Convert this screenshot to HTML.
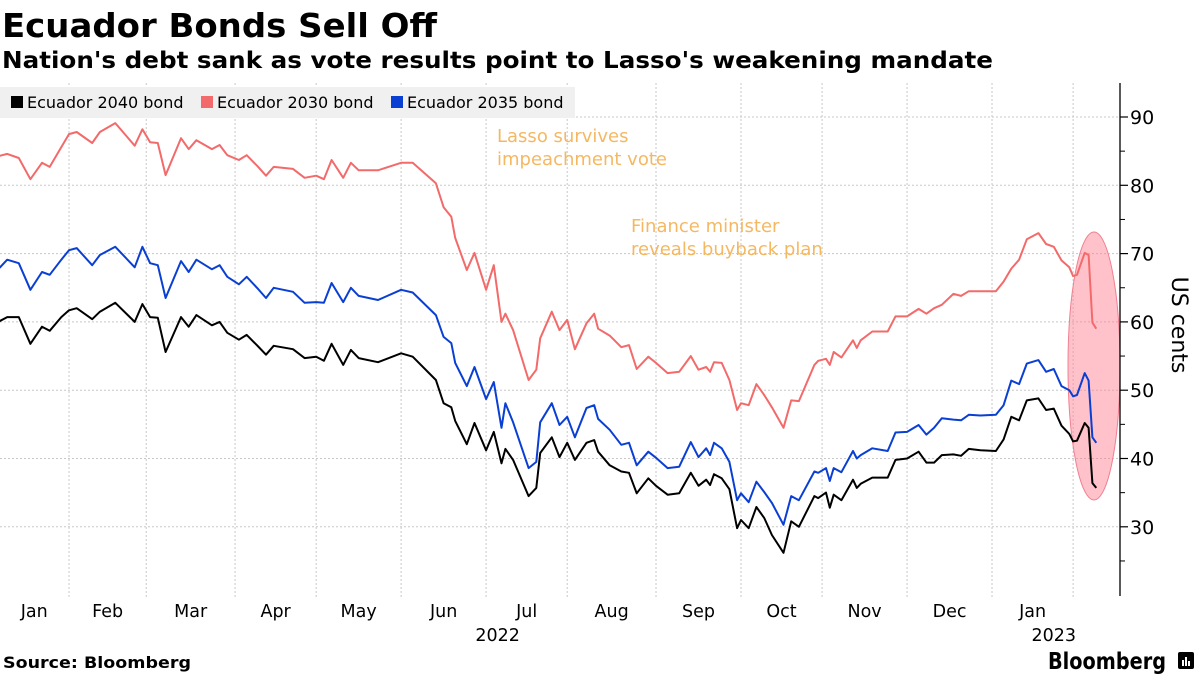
<!DOCTYPE html>
<html><head><meta charset="utf-8">
<style>
body{margin:0;background:#fff;}
svg text{font-family:"DejaVu Sans","Liberation Sans",sans-serif;}
</style></head>
<body>
<svg id="chart" width="1200" height="675" viewBox="0 0 1200 675" xmlns="http://www.w3.org/2000/svg">
<text x="2" y="37" font-size="33" font-weight="bold" fill="#000" textLength="435" lengthAdjust="spacingAndGlyphs">Ecuador Bonds Sell Off</text>
<text x="2" y="68" font-size="23" font-weight="bold" fill="#000" textLength="991" lengthAdjust="spacingAndGlyphs">Nation's debt sank as vote results point to Lasso's weakening mandate</text>
<g id="grid"></g>
<g id="ann"></g>
<g id="lines"></g>
<g id="axes"></g>
<g>
<rect x="0" y="87" width="575" height="31" fill="#f0f0f0"/>
<g><rect x="11" y="96" width="12" height="12" fill="#000"/><text x="27" y="108" font-size="16">Ecuador 2040 bond</text></g>
<g><rect x="201" y="96" width="12" height="12" fill="#f36a6a"/><text x="217" y="108" font-size="16">Ecuador 2030 bond</text></g>
<g><rect x="391" y="96" width="12" height="12" fill="#0a3fd3"/><text x="407" y="108" font-size="16">Ecuador 2035 bond</text></g>
</g>
<text x="3" y="668" font-size="16" font-weight="bold" textLength="188" lengthAdjust="spacingAndGlyphs">Source: Bloomberg</text>
<text x="1048" y="669" font-size="23" font-weight="bold" font-family="Liberation Sans, sans-serif" textLength="118" lengthAdjust="spacingAndGlyphs">Bloomberg</text>
<g><rect x="1178" y="652" width="16" height="17" rx="2" fill="#000"/><rect x="1182" y="660" width="2" height="6" fill="#fff"/><rect x="1185" y="657" width="2" height="9" fill="#fff"/><rect x="1188" y="661" width="2" height="5" fill="#fff"/></g>
</svg>
<script>
// trading-day index since 2022-01-03 (weekdays only)
const days = [3,5,8,11,14,16,19,21,23,27,29,33,38,40,42,44,46,50,52,54,58,60,62,65,67,70,72,74,79,82,85,87,89,92,94,96,101,
107,110,116,118,120,121,124,126,129,131,133,134,136,140,142,143,146,148,150,152,155,157,158,161,164,166,168,171,173,176,179,182,184,186,187,188,190,192,194,195,197,199,201,203,206,208,
210,214,215,217,218,219,221,224,225,226,229,233,235,238,241,243,245,247,250,252,254,257,261,263,265,267,269,272,274,276,278,280,281,282,284,285,286,287];
const bond2030 = [84.3,84.6,84.0,80.9,83.3,82.7,85.6,87.5,87.8,86.2,87.8,89.1,85.8,88.2,86.3,86.2,81.5,86.9,85.3,86.6,85.3,85.9,84.4,83.7,84.4,82.7,81.4,82.7,82.4,81.1,81.4,80.9,83.7,81.1,83.3,82.2,82.2,
83.3,83.3,80.3,76.8,75.4,72.3,67.6,70.1,64.7,68.3,60.0,61.2,58.8,51.5,53.0,57.6,61.5,58.8,60.3,56.0,59.8,61.2,59.0,58.0,56.3,56.6,53.1,54.9,54.0,52.5,52.7,55.0,53.0,53.4,52.7,54.1,54.0,51.5,47.1,48.1,47.8,50.9,49.3,47.5,44.5,48.5,
48.4,53.7,54.3,54.6,53.7,55.6,54.8,57.3,56.2,57.3,58.6,58.6,60.8,60.8,61.9,61.2,62.0,62.5,64.1,63.8,64.5,64.5,64.5,65.9,67.8,69.1,72.1,73.0,71.4,71.0,69.0,68.0,66.7,66.9,70.1,69.8,59.9,59.0];
const bond2035 = [67.9,69.1,68.6,64.7,67.3,66.9,69.1,70.5,70.8,68.3,69.8,71.0,68.0,71.0,68.6,68.3,63.5,68.9,67.3,69.1,67.7,68.3,66.6,65.5,66.6,64.8,63.5,65.0,64.4,62.8,62.9,62.8,65.7,62.9,65.0,63.8,63.2,
64.7,64.3,61.0,57.8,56.9,54.0,50.6,53.4,48.7,51.2,44.5,48.1,45.3,38.6,39.5,45.3,48.1,44.9,46.1,43.1,47.4,47.8,45.8,44.2,42.0,42.3,39.0,41.0,40.1,38.6,38.8,42.4,40.2,41.5,40.5,42.3,41.5,39.5,33.9,34.9,33.6,36.6,35.1,33.5,30.3,34.5,
33.9,38.1,37.9,38.6,36.7,38.6,38.0,41.1,40.0,40.5,41.5,41.1,43.8,43.9,44.9,43.5,44.5,45.9,45.7,45.6,46.4,46.3,46.4,47.8,51.4,50.9,53.9,54.4,52.7,53.1,50.6,50.0,49.1,49.3,52.5,51.4,43.1,42.3];
const bond2040 = [60.1,60.7,60.7,56.8,59.3,58.7,60.7,61.7,62.0,60.4,61.5,62.8,60.0,62.6,60.7,60.6,55.6,60.7,59.3,61.0,59.5,60.0,58.4,57.4,58.1,56.4,55.2,56.5,56.0,54.7,54.9,54.3,56.8,53.7,55.9,54.7,54.1,
55.4,54.9,51.5,48.1,47.5,45.5,42.1,45.2,41.2,43.9,39.3,41.4,39.8,34.5,35.7,40.8,43.1,40.2,42.3,39.8,42.3,42.7,41.0,39.0,38.1,37.9,34.9,37.1,36.0,34.7,34.9,37.9,36.0,36.9,36.1,37.7,37.1,35.5,29.8,31.0,29.8,32.9,31.3,28.8,26.2,30.8,
30.0,34.5,34.2,35.0,32.8,34.7,33.9,36.9,35.7,36.3,37.2,37.2,39.8,40.0,41.0,39.4,39.4,40.5,40.6,40.4,41.4,41.2,41.1,42.8,46.1,45.6,48.5,48.8,47.1,47.3,44.8,43.6,42.5,42.6,45.2,44.5,36.4,35.7];
const yTicks = [30,40,50,60,70,80,90];
const yMinor = [25,35,45,55,65,75,85];
const monthLabels = ["Jan","Feb","Mar","Apr","May","Jun","Jul","Aug","Sep","Oct","Nov","Dec","Jan"];
// trading-day index of the first trading day of each month (Jan 2022 .. Feb 2023)
const monthStarts = [0,21,41,64,85,107,129,150,173,195,216,238,260,281];
const yearLabels = ["2022","2023"];
const yearDays = [132,276];

const NS="http://www.w3.org/2000/svg";
const X0=69, PXD=3.862, AXX=1120;
function xS(d){return X0+(d-21)*PXD;}
function yS(v){return 117+(90-v)*6.83;}
function mk(tag,attrs,parent){const e=document.createElementNS(NS,tag);for(const k in attrs)e.setAttribute(k,attrs[k]);parent.appendChild(e);return e;}
const grid=document.getElementById('grid'),axes=document.getElementById('axes'),lines=document.getElementById('lines'),ann=document.getElementById('ann');

yTicks.forEach(v=>{
  const g=mk('line',{x1:0,x2:AXX,y1:yS(v),y2:yS(v),stroke:'#c8c8c8','stroke-dasharray':'2,2','stroke-width':1},grid);
  
  
  const t=mk('line',{x1:AXX,x2:AXX+8,y1:yS(v),y2:yS(v),stroke:'#000','stroke-width':1.2},axes);
  
  
  const l=mk('text',{x:AXX+10,y:yS(v)+7,'font-size':19},axes);
  l.textContent=v;
  
  
});
yMinor.forEach(v=>{
  const t=mk('line',{x1:AXX,x2:AXX+5,y1:yS(v),y2:yS(v),stroke:'#000','stroke-width':1},axes);
  
  
});
const ax=mk('line',{x1:AXX,x2:AXX,y1:83,y2:596,stroke:'#000','stroke-width':1.3},axes);


const yt=mk('text',{x:0,y:0,'font-size':22,transform:'translate(1172,325) rotate(90)','text-anchor':'middle'},axes);
yt.textContent='US cents';



monthStarts.forEach((d,i)=>{
  if(i>0){
    const g=mk('line',{x1:xS(d),x2:xS(d),y1:83,y2:598,stroke:'#c8c8c8','stroke-dasharray':'2,2','stroke-width':1},grid);
    
    
  }
  if(i<monthLabels.length){
    const mid=(xS(Math.max(d,3))+xS(monthStarts[i+1]))/2;
    const t=mk('text',{x:mid,y:617,'font-size':17.5,'text-anchor':'middle'},axes);
    t.textContent=monthLabels[i];
    
    
  }
});
yearLabels.forEach((y,i)=>{
  const t=mk('text',{x:xS(yearDays[i]),y:641,'font-size':17.5,'text-anchor':'middle'},axes);
  t.textContent=y;
  
  
});

// annotations
const e=mk('ellipse',{cx:1094,cy:366,rx:26,ry:134,fill:'rgba(255,120,140,0.45)',stroke:'#f08090','stroke-width':1},ann);


[[497,142,"Lasso survives"],[497,165,"impeachment vote"],[631,232,"Finance minister"],[631,255,"reveals buyback plan"]].forEach(a=>{
  const t=mk('text',{x:a[0],y:a[1],'font-size':18,fill:'#f5b862'},ann);
  t.textContent=a[2];
  
  
});

function drawSeries(vals,color,name){
  const d=vals.map((v,i)=>(i?'L':'M')+xS(days[i]).toFixed(1)+','+yS(v).toFixed(1)).join(' ');
  const p=mk('path',{d:d,fill:'none',stroke:color,'stroke-width':2,'stroke-linejoin':'round'},lines);
  
  
}
drawSeries(bond2030,'#f36a6a','line-ecuador-2030-bond');
drawSeries(bond2035,'#0a3fd3','line-ecuador-2035-bond');
drawSeries(bond2040,'#000000','line-ecuador-2040-bond');
</script>
</body></html>
